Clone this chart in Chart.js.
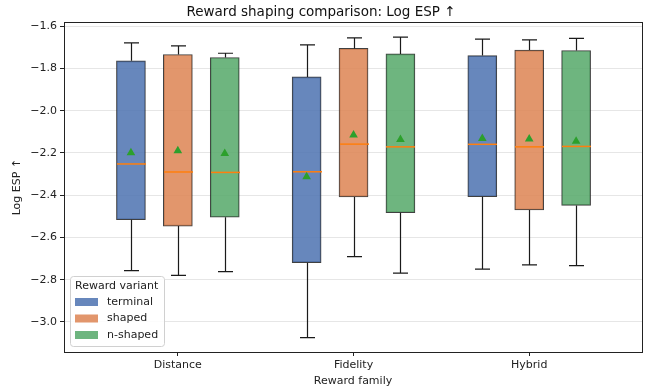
<!DOCTYPE html>
<html>
<head>
<meta charset="utf-8">
<script src="https://cdn.jsdelivr.net/npm/chart.js@4.4.0/dist/chart.umd.min.js"></script>
<style>
  html, body { margin: 0; padding: 0; background: #fff; }
  #wrap { width: 651px; height: 392px; }
</style>
</head>
<body>
<div id="wrap"><canvas id="chart" width="651" height="392"></canvas></div>
<script>
// categories & variants
const categories = ["Distance", "Fidelity", "Hybrid"];
const variants = ["terminal", "shaped", "n-shaped"];

// box stats, [variant][category]
const whiskerLo = [
  [-2.757, -3.074, -2.750],
  [-2.779, -2.691, -2.730],
  [-2.762, -2.769, -2.733]
];
const q1 = [
  [-2.516, -2.719, -2.407],
  [-2.546, -2.408, -2.470],
  [-2.504, -2.483, -2.448]
];
const median = [
  [-2.252, -2.289, -2.159],
  [-2.290, -2.158, -2.171],
  [-2.292, -2.171, -2.169]
];
const q3 = [
  [-1.764, -1.840, -1.739],
  [-1.734, -1.705, -1.713],
  [-1.748, -1.731, -1.715]
];
const whiskerHi = [
  [-1.679, -1.688, -1.661],
  [-1.693, -1.655, -1.665],
  [-1.728, -1.652, -1.658]
];
const mean = [
  [-2.199, -2.313, -2.131],
  [-2.190, -2.115, -2.134],
  [-2.202, -2.136, -2.144]
];
const yTicks = [-1.6, -1.8, -2.0, -2.2, -2.4, -2.6, -2.8, -3.0];

// styles
const faceColors = ["rgba(76,114,176,0.85)", "rgba(221,132,82,0.85)", "rgba(85,168,104,0.85)"];
const offsets = [-0.267, 0, 0.267];
const BOX_W = 29;
const CAP_W = 15;

Chart.defaults.font.family = "'DejaVu Sans', sans-serif";
Chart.defaults.font.size = 11;
Chart.defaults.color = "#222";

const minus = (s) => s.replace("-", "\u2212");

const datasets = variants.map((name, v) => ({
    type: "bar",
    label: name,
    order: 1,
    data: categories.map((c, i) => ({ x: i + offsets[v], y: [q1[v][i], q3[v][i]] })),
    backgroundColor: faceColors[v],
    borderColor: "rgba(30,30,30,0.85)",
    borderWidth: 1,
    borderSkipped: false,
    barThickness: BOX_W,
    grouped: false
}));

// mean markers
datasets.push({
    type: "scatter",
    label: "mean",
    order: 0,
    data: variants.flatMap((n, v) => categories.map((c, i) => ({ x: i + offsets[v], y: mean[v][i] }))),
    pointStyle: "triangle",
    pointRadius: 5,
    pointBorderWidth: 0,
    backgroundColor: "#2ca02c",
    borderColor: "#2ca02c"
});

// whiskers + medians, drawn just before mean markers
const boxExtras = {
    id: "boxExtras",
    beforeDatasetDraw(chart, args) {
        if (args.meta.type !== "scatter") return;
        const { ctx, scales: { x, y } } = chart;
        ctx.save();
        variants.forEach((n, v) => {
            categories.forEach((c, i) => {
                const cx = Math.round(x.getPixelForValue(i + offsets[v])) + 0.5;
                const hi = y.getPixelForValue(whiskerHi[v][i]);
                const lo = y.getPixelForValue(whiskerLo[v][i]);
                ctx.strokeStyle = "#1a1a1a";
                ctx.lineWidth = 1.2;
                ctx.beginPath();
                ctx.moveTo(cx, y.getPixelForValue(q3[v][i]));
                ctx.lineTo(cx, hi);
                ctx.moveTo(cx, y.getPixelForValue(q1[v][i]));
                ctx.lineTo(cx, lo);
                ctx.moveTo(cx - CAP_W / 2, hi);
                ctx.lineTo(cx + CAP_W / 2, hi);
                ctx.moveTo(cx - CAP_W / 2, lo);
                ctx.lineTo(cx + CAP_W / 2, lo);
                ctx.stroke();

                const my = y.getPixelForValue(median[v][i]);
                ctx.strokeStyle = "#ff7f0e";
                ctx.lineWidth = 1.5;
                ctx.beginPath();
                ctx.moveTo(cx - BOX_W / 2, my);
                ctx.lineTo(cx + BOX_W / 2, my);
                ctx.stroke();
            });
        });
        ctx.restore();
    },
    afterDraw(chart) {
        const { ctx, chartArea: a } = chart;
        ctx.save();
        // frame
        ctx.strokeStyle = "#222";
        ctx.lineWidth = 1;
        ctx.strokeRect(Math.round(a.left) + 0.5, Math.round(a.top) + 0.5,
            Math.round(a.right - a.left), Math.round(a.bottom - a.top));

        // legend
        const lx = a.left + 6, lw = 94, lh = 70, ly = a.bottom - 6 - lh;
        ctx.fillStyle = "rgba(255,255,255,0.85)";
        ctx.strokeStyle = "#d0d0d0";
        ctx.lineWidth = 1;
        ctx.beginPath();
        ctx.roundRect(lx + 0.5, ly + 0.5, lw, lh, 3);
        ctx.fill();
        ctx.stroke();
        ctx.font = "11px 'DejaVu Sans', sans-serif";
        ctx.textBaseline = "middle";
        ctx.fillStyle = "#222";
        ctx.fillText("Reward variant", lx + 5, ly + 10);
        variants.forEach((n, v) => {
            const ry = ly + 26 + v * 16.5;
            ctx.fillStyle = faceColors[v];
            ctx.fillRect(lx + 5, ry - 4, 23, 8);
            ctx.fillStyle = "#222";
            ctx.fillText(n, lx + 37, ry);
        });
        ctx.restore();
    }
};

new Chart(document.getElementById("chart"), {
    data: { datasets },
    plugins: [boxExtras],
    options: {
        responsive: false,
        animation: false,
        layout: { padding: { left: 0, right: 9, top: 0, bottom: 0 } },
        plugins: {
            legend: { display: false },
            tooltip: { enabled: false },
            title: {
                display: true,
                text: "Reward shaping comparison: Log ESP \u2191",
                font: { size: 13.5, weight: "normal" },
                color: "#111",
                padding: { top: 4, bottom: 2 }
            }
        },
        scales: {
            x: {
                type: "linear",
                offset: false,
                min: -0.648,
                max: 2.642,
                afterBuildTicks: (s) => { s.ticks = categories.map((c, i) => ({ value: i })); },
                afterFit: (s) => { s.height = 40; },
                ticks: { callback: (v) => categories[v], padding: 3, maxRotation: 0, autoSkip: false },
                grid: { offset: false, drawOnChartArea: false, tickLength: 4, tickColor: "#222" },
                border: { display: false },
                title: { display: true, text: "Reward family", padding: { top: 2, bottom: 4 } }
            },
            y: {
                min: -3.142,
                max: -1.581,
                afterBuildTicks: (s) => { s.ticks = yTicks.map((t) => ({ value: t })); },
                afterFit: (s) => { s.width = 64; },
                ticks: { callback: (v) => minus(v.toFixed(1)), padding: 3 },
                grid: { color: "#e6e6e6", tickLength: 4, tickColor: "#222" },
                border: { display: false },
                title: { display: true, text: "Log ESP \u2191", padding: { top: 11, bottom: 4 } }
            }
        }
    }
});
</script>
</body>
</html>
